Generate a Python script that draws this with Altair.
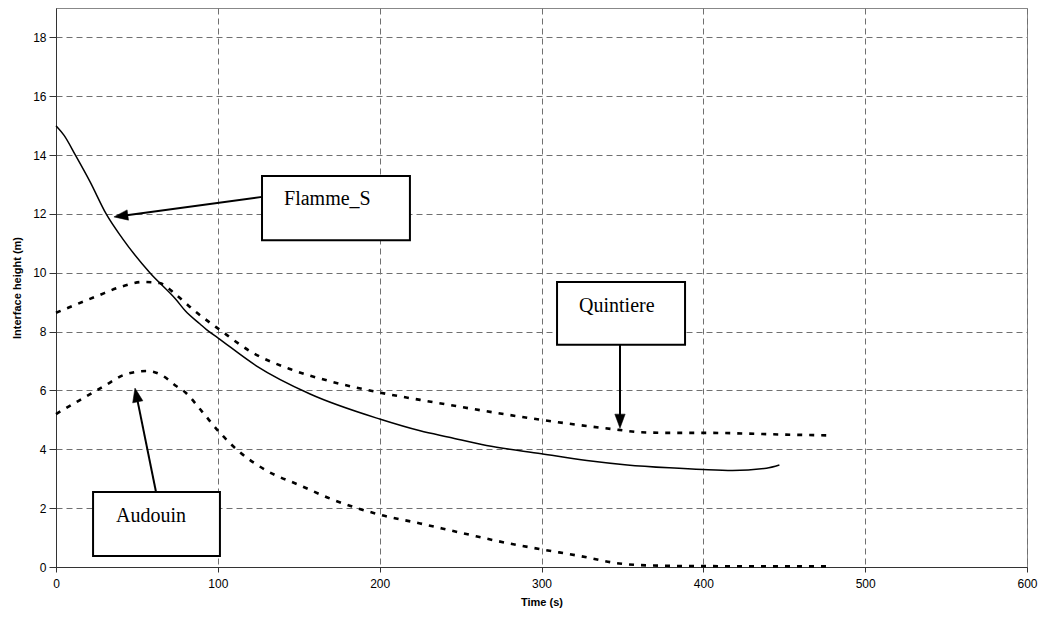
import math
import altair as alt
import pandas as pd

# ---------------- data ----------------
flamme_t = [0, 5, 12, 21, 31, 41, 58, 74, 80, 89, 93, 100, 124, 157, 200, 225, 243,
            266, 300, 328, 353, 379, 400, 418, 439, 447]
flamme_v = [15.0, 14.67, 14.0, 13.1, 12.0, 11.17, 10.0, 9.1, 8.7, 8.26, 8.07, 7.79,
            6.83, 5.88, 5.03, 4.63, 4.41, 4.13, 3.85, 3.62, 3.47, 3.37, 3.31, 3.28, 3.36, 3.47]

quint_t = [0, 25, 41, 54, 64, 74, 86, 101, 121, 145, 171, 200, 225, 243, 262, 300, 348,
           361, 379, 400, 451, 480]
quint_v = [8.64, 9.2, 9.54, 9.69, 9.65, 9.26, 8.69, 8.07, 7.3, 6.72, 6.29, 5.93, 5.68,
           5.51, 5.33, 5.0, 4.66, 4.58, 4.56, 4.56, 4.5, 4.47]

aud_t = [0, 14, 30, 43, 56, 66, 74, 80, 90, 101, 113, 130, 151, 171, 200, 225, 252, 280,
         300, 324, 348, 369, 400, 480]
aud_v = [5.2, 5.65, 6.16, 6.55, 6.66, 6.5, 6.16, 5.93, 5.3, 4.58, 3.93, 3.28, 2.77, 2.29,
         1.78, 1.48, 1.14, 0.8, 0.6, 0.37, 0.12, 0.05, 0.03, 0.02]

x_ticks = [0, 100, 200, 300, 400, 500, 600]
y_ticks = [0, 2, 4, 6, 8, 10, 12, 14, 16, 18]

labels = ["Flamme_S", "Quintiere", "Audouin"]
# annotation boxes, text anchors and arrows (data units)
box_x1 = [127.3, 309.6, 22.9]
box_x2 = [218.7, 388.7, 101.3]
box_y1 = [11.11, 7.55, 0.37]
box_y2 = [13.29, 9.69, 2.55]
txt_x = [140.9, 323.2, 37.1]
txt_y = [12.30, 8.67, 1.53]
arr_sx = [127.3, 348.5, 61.8]
arr_sy = [12.58, 7.55, 2.55]
arr_hx = [35.8, 348.5, 48.8]
arr_hy = [11.90, 4.72, 6.08]

# ---------------- layout ----------------
W, H = 971, 559
XMAX, YMAX = 600, 19
PX_X = W / XMAX
PX_Y = H / YMAX
HEAD_LEN = 14

xscale = alt.Scale(domain=[0, XMAX], nice=False, zero=False)
yscale = alt.Scale(domain=[0, YMAX], nice=False, zero=False)

FONT = "Liberation Sans"

xaxis = alt.Axis(values=x_ticks, title="Time (s)", grid=True, gridDash=[6, 4],
                 gridColor="#707070", gridWidth=1, domainColor="#333333", tickColor="#333333",
                 tickSize=5, labelPadding=6, labelFont=FONT, labelFontSize=12,
                 labelColor="black", titleFont=FONT, titleFontSize=11, titleFontWeight="bold",
                 titleColor="black", titlePadding=7, labelFlush=False)
yaxis = alt.Axis(values=y_ticks, title="Interface height (m)", grid=True, gridDash=[6, 4],
                 gridColor="#707070", gridWidth=1, domainColor="#333333", tickColor="#333333",
                 tickSize=7, labelPadding=3, labelFont=FONT, labelFontSize=12,
                 labelColor="black", titleFont=FONT, titleFontSize=11, titleFontWeight="bold",
                 titleColor="black", titlePadding=10, labelFlush=False)

df_f = pd.DataFrame({"t": flamme_t, "v": flamme_v})
df_q = pd.DataFrame({"t": quint_t, "v": quint_v})
df_a = pd.DataFrame({"t": aud_t, "v": aud_v})

line_f = alt.Chart(df_f).mark_line(color="black", strokeWidth=1.5, interpolate="monotone").encode(
    x=alt.X("t:Q", scale=xscale, axis=xaxis),
    y=alt.Y("v:Q", scale=yscale, axis=yaxis),
)
line_q = alt.Chart(df_q).mark_line(color="black", strokeWidth=2.6, strokeDash=[5, 7],
                                   interpolate="monotone").encode(
    x=alt.X("t:Q", scale=xscale), y=alt.Y("v:Q", scale=yscale))
line_a = alt.Chart(df_a).mark_line(color="black", strokeWidth=2.6, strokeDash=[5, 7],
                                   interpolate="monotone").encode(
    x=alt.X("t:Q", scale=xscale), y=alt.Y("v:Q", scale=yscale))

# arrow geometry
rows = []
for i, lab in enumerate(labels):
    dx = (arr_hx[i] - arr_sx[i]) * PX_X
    dy = -(arr_hy[i] - arr_sy[i]) * PX_Y  # screen coords (down positive)
    ang = math.degrees(math.atan2(dx, -dy)) % 360
    length = math.hypot(dx, dy)
    frac = (HEAD_LEN - 3) / length
    ex = arr_hx[i] + (arr_sx[i] - arr_hx[i]) * frac
    ey = arr_hy[i] + (arr_sy[i] - arr_hy[i]) * frac
    rows.append(dict(label=lab, bx1=box_x1[i], bx2=box_x2[i], by1=box_y1[i], by2=box_y2[i],
                     tx=txt_x[i], ty=txt_y[i], sx=arr_sx[i], sy=arr_sy[i],
                     ex=ex, ey=ey, hx=arr_hx[i], hy=arr_hy[i], ang=ang))
ann = pd.DataFrame(rows)

boxes = alt.Chart(ann).mark_rect(fill="white", stroke="black", strokeWidth=2).encode(
    x=alt.X("bx1:Q", scale=xscale), x2="bx2:Q",
    y=alt.Y("by1:Q", scale=yscale), y2="by2:Q")

shafts = alt.Chart(ann).mark_rule(color="black", strokeWidth=2).encode(
    x=alt.X("sx:Q", scale=xscale), x2="ex:Q",
    y=alt.Y("sy:Q", scale=yscale), y2="ey:Q")

heads = alt.Chart(ann).mark_point(shape="M0,0L-0.37,1L0.37,1Z", filled=True, fill="black",
                                  stroke="black", strokeWidth=0.5, opacity=1,
                                  size=(2 * HEAD_LEN) ** 2).encode(
    x=alt.X("hx:Q", scale=xscale), y=alt.Y("hy:Q", scale=yscale),
    angle=alt.Angle("ang:Q", scale=None))

texts = alt.Chart(ann).mark_text(font="Liberation Serif", fontSize=20, color="black",
                                 align="left", baseline="alphabetic").encode(
    x=alt.X("tx:Q", scale=xscale), y=alt.Y("ty:Q", scale=yscale), text="label:N")

chart = alt.layer(line_f, line_q, line_a, boxes, shafts, heads, texts).properties(
    width=W, height=H,
    autosize=alt.AutoSizeParams(type="none"),
    padding={"left": 48, "top": 0, "right": 13, "bottom": 45},
    background="white",
).configure_view(stroke="#888888", strokeWidth=1)

chart.save("out.html", embed_options={"renderer": "svg", "actions": False})
